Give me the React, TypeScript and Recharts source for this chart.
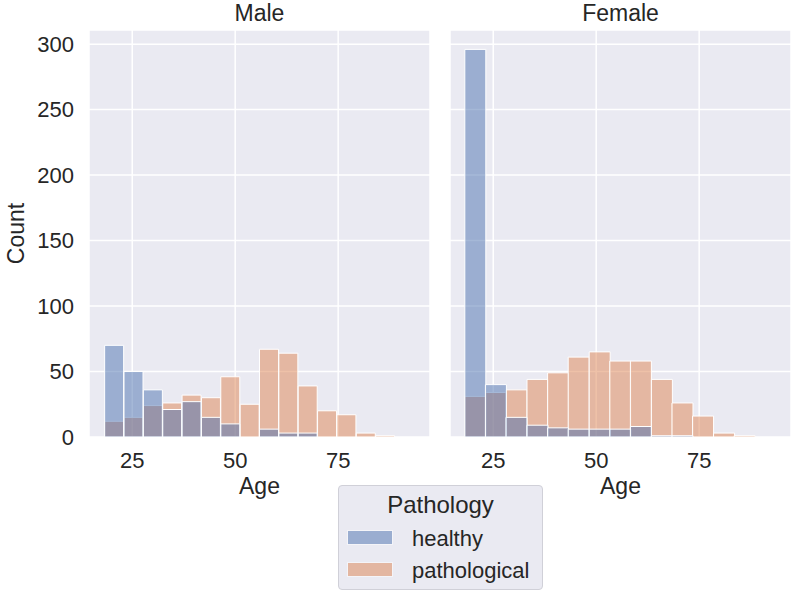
import { BarChart, Bar, XAxis, YAxis, CartesianGrid } from "recharts";

// bin centres (years)
const maleAges = [20.65, 25.35, 30.05, 34.75, 39.45, 44.15, 48.85, 53.55, 58.25, 62.95, 67.65, 72.35, 77.05, 81.75, 86.45];
const maleHealthy = [70, 50, 36, 21, 27, 15, 10, 0, 6, 3, 3, 0, 0, 0, 0];
const malePathological = [12, 15, 24, 26, 32, 30, 46, 25, 67, 64, 39, 20, 17, 3, 1];

const femaleAges = [20.6, 25.6, 30.6, 35.7, 40.7, 45.7, 50.8, 55.8, 60.8, 65.9, 70.9, 75.9, 81.0, 86.0];
const femaleHealthy = [296, 40, 15, 9, 7, 6, 6, 6, 8, 1, 1, 0, 0, 0];
const femalePathological = [31, 34, 36, 44, 49, 61, 65, 58, 58, 44, 26, 16, 3, 1];

const xTicks = [25, 50, 75];
const yTicks = [0, 50, 100, 150, 200, 250, 300];
const xDomain = [14.5, 97.3];
const yDomain = [0, 310.8];

const BLUE = "#4c72b0";
const ORANGE = "#dd8452";
const TEXT = "#262626";
const BG = "#eaeaf2";
const FONT = "'Liberation Sans', Arial, sans-serif";

const toRows = (ages: number[], healthy: number[], pathological: number[]) =>
  ages.map((age, i) => ({ age, healthy: healthy[i], pathological: pathological[i] }));

const maleData = toRows(maleAges, maleHealthy, malePathological);
const femaleData = toRows(femaleAges, femaleHealthy, femalePathological);

type FacetProps = {
  data: { age: number; healthy: number; pathological: number }[];
  width: number;
  margin: { top: number; right: number; bottom: number; left: number };
  showY: boolean;
};

function Facet({ data, width, margin, showY }: FacetProps) {
  return (
    <BarChart width={width} height={520} data={data} margin={margin} barCategoryGap={0} barGap={0}>
      <CartesianGrid fill={BG} stroke="#ffffff" strokeWidth={1.5} xAxisId="x" yAxisId="y" />
      <XAxis
        xAxisId="x"
        type="number"
        dataKey="age"
        domain={xDomain}
        ticks={xTicks}
        axisLine={false}
        tickLine={false}
        tickSize={0}
        tickMargin={15}
        height={65}
        tick={{ fontSize: 22, fill: TEXT }}
        label={{ value: "Age", position: "insideBottom", offset: 8, fontSize: 23, fill: TEXT }}
      />
      {/* second, hidden axis so the two hue layers overlap instead of sitting side by side */}
      <XAxis xAxisId="h" type="number" dataKey="age" domain={xDomain} orientation="top" height={0} hide />
      <YAxis
        yAxisId="y"
        type="number"
        domain={yDomain}
        ticks={yTicks}
        hide={!showY}
        width={89}
        axisLine={false}
        tickLine={false}
        tickSize={0}
        tickMargin={15}
        tick={{ fontSize: 22, fill: TEXT }}
        label={{
          value: "Count",
          angle: -90,
          position: "insideLeft",
          offset: 16,
          fontSize: 23,
          fill: TEXT,
          style: { textAnchor: "middle" },
        }}
      />
      <Bar
        xAxisId="x"
        yAxisId="y"
        dataKey="pathological"
        fill={ORANGE}
        fillOpacity={0.5}
        stroke="#ffffff"
        strokeWidth={1}
        isAnimationActive={false}
      />
      <Bar
        xAxisId="h"
        yAxisId="y"
        dataKey="healthy"
        fill={BLUE}
        fillOpacity={0.5}
        stroke="#ffffff"
        strokeWidth={1}
        isAnimationActive={false}
      />
    </BarChart>
  );
}

const titleStyle: React.CSSProperties = {
  position: "absolute",
  top: -1,
  width: 341,
  textAlign: "center",
  fontSize: 23,
  color: TEXT,
  lineHeight: "28px",
};

const legendItems = [
  { name: "healthy", color: BLUE },
  { name: "pathological", color: ORANGE },
];

export default function App() {
  return (
    <div
      style={{
        position: "absolute",
        left: 0,
        top: 0,
        width: 800,
        height: 600,
        background: "#ffffff",
        fontFamily: FONT,
        overflow: "hidden",
      }}
    >
      <div style={{ ...titleStyle, left: 89 }}>Male</div>
      <div style={{ ...titleStyle, left: 450 }}>Female</div>

      <div style={{ position: "absolute", left: 0, top: 0 }}>
        <Facet data={maleData} width={440} margin={{ top: 30, right: 10, bottom: 18, left: 0 }} showY />
      </div>
      <div style={{ position: "absolute", left: 440, top: 0 }}>
        <Facet data={femaleData} width={360} margin={{ top: 30, right: 9, bottom: 18, left: 10 }} showY={false} />
      </div>

      <div
        style={{
          position: "absolute",
          left: 338,
          top: 485,
          width: 205,
          height: 105,
          boxSizing: "border-box",
          background: BG,
          border: "1px solid #d0d0d8",
          borderRadius: 4,
          color: TEXT,
        }}
      >
        <div
          style={{
            position: "absolute",
            left: 0,
            right: 0,
            top: 5,
            textAlign: "center",
            fontSize: 24,
            lineHeight: "28px",
          }}
        >
          Pathology
        </div>
        {legendItems.map((item, i) => (
          <div key={item.name}>
            <div
              style={{
                position: "absolute",
                left: 8,
                top: 44 + i * 32,
                width: 46,
                height: 15,
                background: item.color,
                opacity: 0.5,
                border: "1px solid #ffffff",
                boxSizing: "border-box",
              }}
            />
            <div
              style={{
                position: "absolute",
                left: 73,
                top: 41 + i * 32,
                fontSize: 22,
                lineHeight: "24px",
                whiteSpace: "nowrap",
              }}
            >
              {item.name}
            </div>
          </div>
        ))}
      </div>
    </div>
  );
}
